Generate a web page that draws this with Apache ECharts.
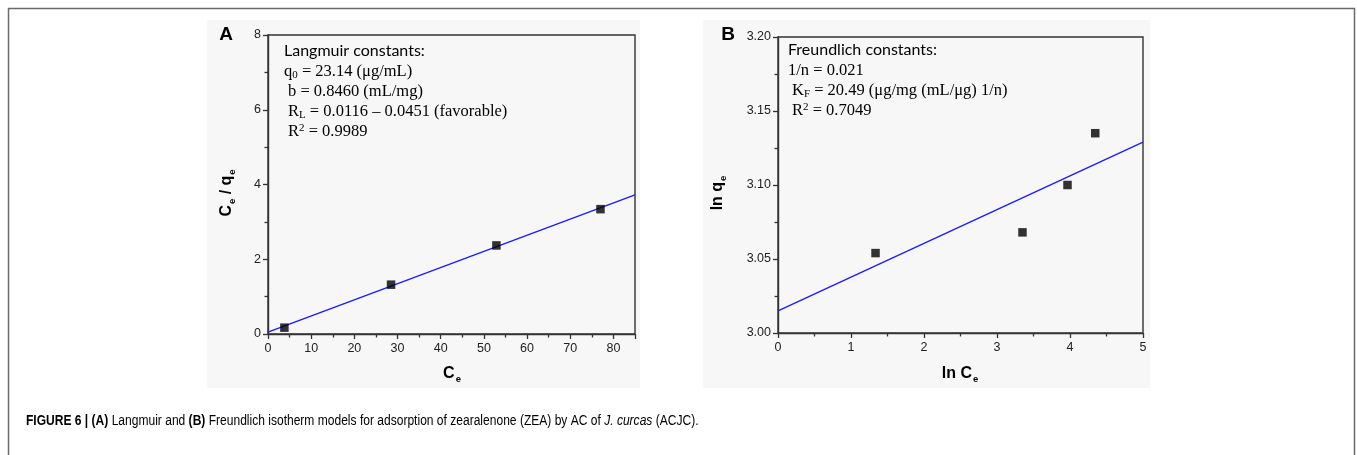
<!DOCTYPE html>
<html><head><meta charset="utf-8">
<script src="https://cdn.jsdelivr.net/npm/echarts@6/dist/echarts.min.js"></script>
<style>html,body{margin:0;padding:0;background:#fff;}#c{width:1357px;height:455px;}</style>
</head><body><div id="c"></div>
<script>
// Panel A: Langmuir
const ceA = [3.8, 28.5, 52.9, 77.0];
const ceqeA = [0.17, 1.32, 2.37, 3.34];
const fitAx = [0, 85];
const fitAy = [0.05, 3.72];
// Panel B: Freundlich
const lnCeB = [1.336, 3.349, 3.966, 4.346];
const lnQeB = [3.054, 3.068, 3.100, 3.135];
const fitBx = [0, 5];
const fitBy = [3.015, 3.129];

const chart = echarts.init(document.getElementById('c'), null, {renderer: 'canvas'});
const axisCol = '#333';
const lblFont = {fontFamily: 'Liberation Sans, Arial, sans-serif', fontSize: 12.5, color: '#222'};
function xAx(idx, min, max, interval, fmt) {
  return {gridIndex: idx, type: 'value', min, max, interval,
    axisLine: {show: true, lineStyle: {color: axisCol, width: 1.4}},
    axisTick: {show: true, length: 5, lineStyle: {color: axisCol, width: 1.3}},
    minorTick: {show: true, splitNumber: 2, length: 3.5, lineStyle: {color: axisCol, width: 1.3}},
    splitLine: {show: false},
    axisLabel: Object.assign({margin: 8, formatter: fmt}, lblFont)};
}
function yAx(idx, min, max, interval, fmt) {
  return {gridIndex: idx, type: 'value', min, max, interval,
    axisLine: {show: true, lineStyle: {color: axisCol, width: 1.4}},
    axisTick: {show: true, length: 5, lineStyle: {color: axisCol, width: 1.3}},
    minorTick: {show: true, splitNumber: 2, length: 3.5, lineStyle: {color: axisCol, width: 1.3}},
    splitLine: {show: false},
    axisLabel: Object.assign({margin: 7, formatter: fmt}, lblFont)};
}
const serif = 'Liberation Serif, Times New Roman, serif';
const sans = 'Lato, Noto Sans, sans-serif';
const rich = {
  n: {fontFamily: serif, fontSize: 16.5, color: '#111'},
  s: {fontFamily: serif, fontSize: 11, color: '#111', verticalAlign: 'bottom', padding: [8, 0, 0, 0]},
  p: {fontFamily: serif, fontSize: 11, color: '#111', verticalAlign: 'top', padding: [0, 0, 7, 0]},
  h: {fontFamily: sans, fontSize: 16, color: '#111'}
};
function txt(x, y, text) {
  return {type: 'text', left: x, top: y - 10, style: {text, rich, font: '16px ' + serif}};
}
const axTitleRich = {
  b: {fontFamily: 'Liberation Sans, Arial, sans-serif', fontWeight: 'bold', fontSize: 16, color: '#111'},
  e: {fontFamily: 'Liberation Sans, Arial, sans-serif', fontWeight: 'bold', fontSize: 9.5, color: '#111', padding: [10, 0, 0, 1]}
};
function axTitle(x, y, text, rot) {
  return {type: 'text', x, y, rotation: rot || 0, style: {text, rich: axTitleRich, align: 'center', verticalAlign: 'middle'}};
}
const capFont = 'Liberation Sans, Arial, sans-serif';
const option = {
  animation: false,
  backgroundColor: '#ffffff',
  grid: [
    {left: 268, top: 35, width: 367, height: 299, show: true, borderColor: axisCol, borderWidth: 1.4, backgroundColor: 'transparent'},
    {left: 778, top: 37, width: 365, height: 296, show: true, borderColor: axisCol, borderWidth: 1.4, backgroundColor: 'transparent'}
  ],
  xAxis: [
    xAx(0, 0, 85, 10, v => (v % 10 === 0 ? String(v) : '')),
    xAx(1, 0, 5, 1, v => String(v))
  ],
  yAxis: [
    yAx(0, 0, 8, 2, v => String(v)),
    yAx(1, 3.0, 3.2, 0.05, v => Number(v).toFixed(2))
  ],
  graphic: [
    {type: 'rect', z: -10, shape: {x: 207, y: 20, width: 433, height: 368}, style: {fill: '#f7f7f7'}},
    {type: 'rect', z: -10, shape: {x: 703, y: 20, width: 447, height: 368}, style: {fill: '#f7f7f7'}},
    {type: 'rect', z: -5, shape: {x: 8.5, y: 8.5, width: 1346, height: 460}, style: {fill: 'none', stroke: '#6a6a6a', lineWidth: 1.5}},
    {type: 'text', x: 226, y: 35, style: {text: 'A', font: 'bold 19px Liberation Sans, Arial, sans-serif', fill: '#000', align: 'center', verticalAlign: 'middle'}},
    {type: 'text', x: 728, y: 35, style: {text: 'B', font: 'bold 19px Liberation Sans, Arial, sans-serif', fill: '#000', align: 'center', verticalAlign: 'middle'}},
    axTitle(452, 374, '{b|C}{e|e}'),
    axTitle(227, 193, '{b|C}{e|e}{b| / q}{e|e}', Math.PI / 2),
    axTitle(960, 374, '{b|ln C}{e|e}'),
    axTitle(718, 193, '{b|ln q}{e|e}', Math.PI / 2),
    txt(284, 53, '{h|Langmuir constants:}'),
    txt(284, 73, '{n|q}{s|0}{n| = 23.14 (μg/mL)}'),
    txt(288, 93, '{n|b = 0.8460 (mL/mg)}'),
    txt(288, 113, '{n|R}{s|L}{n| = 0.0116 – 0.0451 (favorable)}'),
    txt(288, 133, '{n|R}{p|2}{n| = 0.9989}'),
    txt(788, 52, '{h|Freundlich constants:}'),
    txt(788, 72, '{n|1/n = 0.021}'),
    txt(792, 92, '{n|K}{s|F}{n| = 20.49 (μg/mg (mL/μg) 1/n)}'),
    txt(792, 112, '{n|R}{p|2}{n| = 0.7049}'),
    {type: 'text', x: 26, y: 421, scaleX: 0.86, style: {
      text: '{b|FIGURE 6 | (A)}{r| Langmuir and }{b|(B)}{r| Freundlich isotherm models for adsorption of zearalenone (ZEA) by AC of }{i|J. curcas}{r| (ACJC).}',
      verticalAlign: 'middle',
      rich: {
        b: {fontFamily: capFont, fontWeight: 'bold', fontSize: 14, color: '#222'},
        r: {fontFamily: capFont, fontSize: 14, color: '#222'},
        i: {fontFamily: capFont, fontStyle: 'italic', fontSize: 14, color: '#222'}
      }}}
  ],
  series: [
    {type: 'line', xAxisIndex: 0, yAxisIndex: 0, data: fitAx.map((x, i) => [x, fitAy[i]]), showSymbol: false, lineStyle: {color: '#1a1aff', width: 1.3}, z: 2},
    {type: 'scatter', xAxisIndex: 0, yAxisIndex: 0, data: ceA.map((x, i) => [x, ceqeA[i]]), symbol: 'rect', symbolSize: 8.5, itemStyle: {color: '#000'}, z: 3},
    {type: 'line', xAxisIndex: 1, yAxisIndex: 1, data: fitBx.map((x, i) => [x, fitBy[i]]), showSymbol: false, lineStyle: {color: '#1a1aff', width: 1.3}, z: 2},
    {type: 'scatter', xAxisIndex: 1, yAxisIndex: 1, data: lnCeB.map((x, i) => [x, lnQeB[i]]), symbol: 'rect', symbolSize: 8.5, itemStyle: {color: '#000'}, z: 3}
  ]
};
chart.setOption(option);
</script></body></html>
